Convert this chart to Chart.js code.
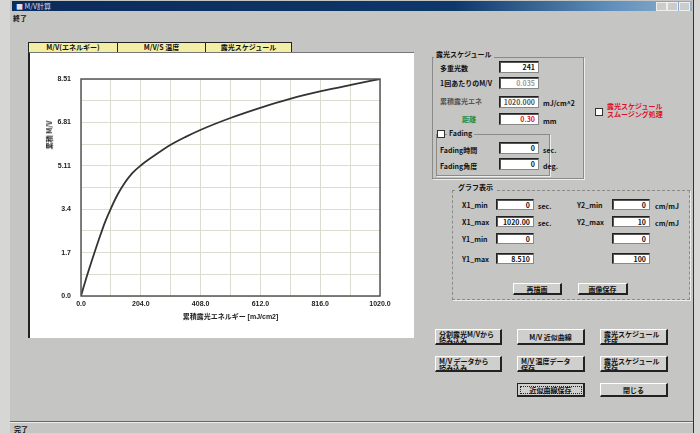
<!DOCTYPE html>
<html>
<head>
<meta charset="utf-8">
<script src="https://cdn.jsdelivr.net/npm/chart.js@4.4.0/dist/chart.umd.min.js"></script>
<style>
body { margin:0; width:700px; height:433px; background:#d6d6d4; position:relative; overflow:hidden;
       font-family:"Noto Sans CJK JP","Liberation Sans",sans-serif; color:#111; }
.a { position:absolute; }
.t { position:absolute; font-size:7px; font-weight:bold; white-space:nowrap; line-height:8px; }
#win { left:10px; top:0; width:683px; height:433px; background:#c5c5c3; border-right:1px solid #333; }
#titlebar { left:12px; top:1px; width:680px; height:10px;
  background:linear-gradient(to right,#0b2b5a 0%,#0e376a 65%,#5f8fbb 88%,#8fb0cf 100%); }
.tab { position:absolute; top:42px; height:9px; background:#f3eea6; border:1px solid #222; border-bottom:none;
  font-size:7px; font-weight:bold; text-align:center; line-height:9px; }
#panel { left:28px; top:52px; width:384px; height:285px; background:#fff; border-left:2px solid #222; border-top:1px solid #777; }
.grp { position:absolute; border:1px solid #8a8a88; box-shadow:1px 1px 0 #eee; }
.box { position:absolute; background:#fff; border:1px solid #222; border-right-color:#888; border-bottom-color:#888;
  box-shadow:inset 1px 1px 0 #555; font-size:7px; font-weight:bold; text-align:right; line-height:10px; padding-right:3px; box-sizing:border-box; }
.btn { position:absolute; background:#cfcfcd; border:1px solid #fff; border-right:2px solid #222; border-bottom:2px solid #222;
  box-sizing:border-box; font-size:7px; font-weight:bold; line-height:6.5px; padding:1px 3px; overflow:hidden; }
.chk { position:absolute; width:6px; height:6px; background:#fff; border:1px solid #333; }
#ytitle { left:49px; top:135px; transform:translate(-50%,-50%) rotate(-90deg); color:#222; }
</style>
</head>
<body>
<div id="win" class="a"></div>
<div id="titlebar" class="a"></div>
<div class="t" style="left:16px;top:2px;color:#dde;font-weight:normal;">■ M/V計算</div>
<div class="a" style="left:656px;top:2px;width:9px;height:7px;background:#ccc;border:1px solid #eee;"></div>
<div class="a" style="left:667px;top:2px;width:9px;height:7px;background:#ccc;border:1px solid #eee;"></div>
<div class="a" style="left:679px;top:2px;width:9px;height:7px;background:#ccc;border:1px solid #eee;"></div>
<div class="t" style="left:13px;top:14px;">終了</div>

<div class="tab" style="left:28px;width:88px;">M/V(エネルギー)</div>
<div class="tab" style="left:117px;width:87px;">M/V/S 温度</div>
<div class="tab" style="left:205px;width:85px;">露光スケジュール</div>

<div id="panel" class="a"></div>
<canvas id="mvChart" class="a" width="370" height="282" style="left:30px;top:54px;"></canvas>
<div id="ytitle" class="t">累積 M/V</div>

<!-- 露光スケジュール -->
<div class="grp" style="left:432px;top:57px;width:150px;height:120px;"></div>
<div class="t" style="left:434px;top:50px;background:#c5c5c3;padding:0 2px;">露光スケジュール</div>
<div class="t" style="left:440px;top:64px;">多重光数</div>
<div class="box" style="left:499px;top:61px;width:40px;height:12px;">241</div>
<div class="t" style="left:440px;top:79px;">1回あたりのM/V</div>
<div class="box" style="left:499px;top:77px;width:40px;height:12px;color:#999;">0.035</div>
<div class="t" style="left:440px;top:97px;color:#555;">累積露光エネ</div>
<div class="box" style="left:499px;top:96px;width:40px;height:12px;color:#555;">1020.000</div>
<div class="t" style="left:543px;top:99px;">mJ/cm^2</div>
<div class="t" style="left:462px;top:115px;color:#2a8a3a;">距離</div>
<div class="box" style="left:499px;top:113px;width:40px;height:12px;color:#e0102a;">0.30</div>
<div class="t" style="left:543px;top:117px;">mm</div>
<div class="grp" style="left:436px;top:134px;width:112px;height:40px;"></div>
<div class="chk" style="left:437px;top:130px;"></div>
<div class="t" style="left:447px;top:129px;background:#c5c5c3;padding:0 2px;">Fading</div>
<div class="t" style="left:440px;top:146px;">Fading時間</div>
<div class="box" style="left:499px;top:142px;width:40px;height:12px;">0</div>
<div class="t" style="left:543px;top:146px;">sec.</div>
<div class="t" style="left:440px;top:162px;">Fading角度</div>
<div class="box" style="left:499px;top:158px;width:40px;height:12px;">0</div>
<div class="t" style="left:543px;top:162px;">deg.</div>

<div class="chk" style="left:595px;top:108px;"></div>
<div class="t" style="left:607px;top:102px;color:#e0102a;">露光スケジュール</div>
<div class="t" style="left:607px;top:110px;color:#e0102a;">スムージング処理</div>

<!-- グラフ表示 -->
<div class="grp" style="left:452px;top:190px;width:236px;height:108px;border-style:dashed;"></div>
<div class="t" style="left:456px;top:183px;background:#c5c5c3;padding:0 2px;">グラフ表示</div>
<div class="t" style="left:462px;top:201px;">X1_min</div>
<div class="box" style="left:496px;top:199px;width:38px;height:11px;">0</div>
<div class="t" style="left:538px;top:202px;">sec.</div>
<div class="t" style="left:462px;top:218px;">X1_max</div>
<div class="box" style="left:496px;top:216px;width:38px;height:11px;">1020.00</div>
<div class="t" style="left:538px;top:219px;">sec.</div>
<div class="t" style="left:462px;top:235px;">Y1_min</div>
<div class="box" style="left:496px;top:233px;width:38px;height:11px;">0</div>
<div class="t" style="left:462px;top:255px;">Y1_max</div>
<div class="box" style="left:496px;top:253px;width:38px;height:11px;">8.510</div>
<div class="t" style="left:577px;top:201px;">Y2_min</div>
<div class="box" style="left:612px;top:199px;width:38px;height:11px;">0</div>
<div class="t" style="left:655px;top:202px;">cm/mJ</div>
<div class="t" style="left:577px;top:218px;">Y2_max</div>
<div class="box" style="left:612px;top:216px;width:38px;height:11px;">10</div>
<div class="t" style="left:655px;top:219px;">cm/mJ</div>
<div class="box" style="left:612px;top:233px;width:38px;height:11px;">0</div>
<div class="box" style="left:612px;top:253px;width:38px;height:11px;">100</div>
<div class="btn" style="left:513px;top:283px;width:49px;height:12px;text-align:center;line-height:8px;">再描画</div>
<div class="btn" style="left:578px;top:283px;width:50px;height:12px;text-align:center;line-height:8px;">画像保存</div>

<!-- bottom buttons -->
<div class="btn" style="left:435px;top:329px;width:67px;height:16px;">分割露光M/Vから<br>読み込み</div>
<div class="btn" style="left:517px;top:329px;width:68px;height:16px;text-align:center;line-height:12px;">M/V 近似曲線</div>
<div class="btn" style="left:600px;top:329px;width:68px;height:16px;">露光スケジュール<br>作成</div>
<div class="btn" style="left:435px;top:356px;width:67px;height:16px;">M/V データから<br>読み込み</div>
<div class="btn" style="left:517px;top:356px;width:68px;height:16px;">M/V 温度データ<br>保存</div>
<div class="btn" style="left:600px;top:356px;width:68px;height:16px;">露光スケジュール<br>保存</div>
<div class="btn" style="left:517px;top:383px;width:68px;height:14px;text-align:center;line-height:10px;outline:1px dotted #222;outline-offset:-4px;border-left:1px solid #222;border-top:1px solid #222;">近似曲線保存</div>
<div class="btn" style="left:600px;top:383px;width:68px;height:14px;text-align:center;line-height:10px;">閉じる</div>

<div class="a" style="left:10px;top:421px;width:683px;height:1px;background:#666;"></div>
<div class="a" style="left:10px;top:422px;width:683px;height:1px;background:#eee;"></div>
<div class="t" style="left:14px;top:425px;">完了</div>

<script>
// Data
const exposureEnergy = [0, 14, 36, 65, 82, 101, 125, 150, 175, 204, 252, 306, 357, 409, 512, 614, 716, 819, 921, 1020];
const cumulativeMV = [0, 0.55, 1.35, 2.35, 2.90, 3.41, 3.98, 4.45, 4.82, 5.12, 5.52, 5.93, 6.24, 6.52, 6.99, 7.39, 7.74, 8.03, 8.28, 8.51];
const xTickLabels = ['0.0', '204.0', '408.0', '612.0', '816.0', '1020.0'];
const yTickLabels = ['0.0', '1.7', '3.4', '5.11', '6.81', '8.51'];
const X_MAX = 1020;
const Y_MAX = 8.51;
const GRID_DIVS = 10;

const FONT = { family: '"Liberation Sans", "Noto Sans CJK JP", sans-serif', size: 7, weight: 'bold' };

// plot frame
const frameBorder = {
    id: 'frameBorder',
    afterDatasetsDraw(chart) {
        const { ctx, chartArea: a } = chart;
        ctx.save();
        ctx.strokeStyle = '#555';
        ctx.lineWidth = 1.5;
        ctx.strokeRect(a.left, a.top, a.right - a.left, a.bottom - a.top);
        ctx.restore();
    }
};

function gridTicks(max) {
    return scale => {
        scale.ticks = [];
        for (let i = 0; i <= GRID_DIVS; i++) scale.ticks.push({ value: max * i / GRID_DIVS });
    };
}

const ctx = document.getElementById('mvChart').getContext('2d');
new Chart(ctx, {
    type: 'line',
    data: {
        datasets: [{
            data: exposureEnergy.map((x, i) => ({ x: x, y: cumulativeMV[i] })),
            borderColor: '#333',
            borderWidth: 1.8,
            pointRadius: 0,
            cubicInterpolationMode: 'monotone',
            fill: false
        }]
    },
    options: {
        responsive: false,
        animation: false,
        layout: { padding: { top: 25, right: 20, left: 0, bottom: 0 } },
        plugins: { legend: { display: false }, tooltip: { enabled: false } },
        scales: {
            x: {
                type: 'linear',
                min: 0,
                max: X_MAX,
                afterBuildTicks: gridTicks(X_MAX),
                afterFit: s => { s.height = 40; },
                grid: { color: '#dcdcd2', drawTicks: false },
                border: { display: false },
                ticks: {
                    padding: 4,
                    autoSkip: false,
                    maxRotation: 0,
                    color: '#222',
                    font: FONT,
                    callback: (v, i) => (i % 2 === 0 ? xTickLabels[i / 2] : '')
                },
                title: { display: true, text: '累積露光エネルギー [mJ/cm2]', color: '#222', font: FONT, padding: { top: 0, bottom: 15 } }
            },
            y: {
                min: 0,
                max: Y_MAX,
                afterBuildTicks: gridTicks(Y_MAX),
                afterFit: s => { s.width = 51; },
                grid: { color: '#dcdcd2', drawTicks: false },
                border: { display: false },
                ticks: {
                    padding: 10,
                    autoSkip: false,
                    color: '#222',
                    font: FONT,
                    callback: (v, i) => (i % 2 === 0 ? yTickLabels[i / 2] : '')
                }
            }
        }
    },
    plugins: [frameBorder]
});
</script>
</body>
</html>
